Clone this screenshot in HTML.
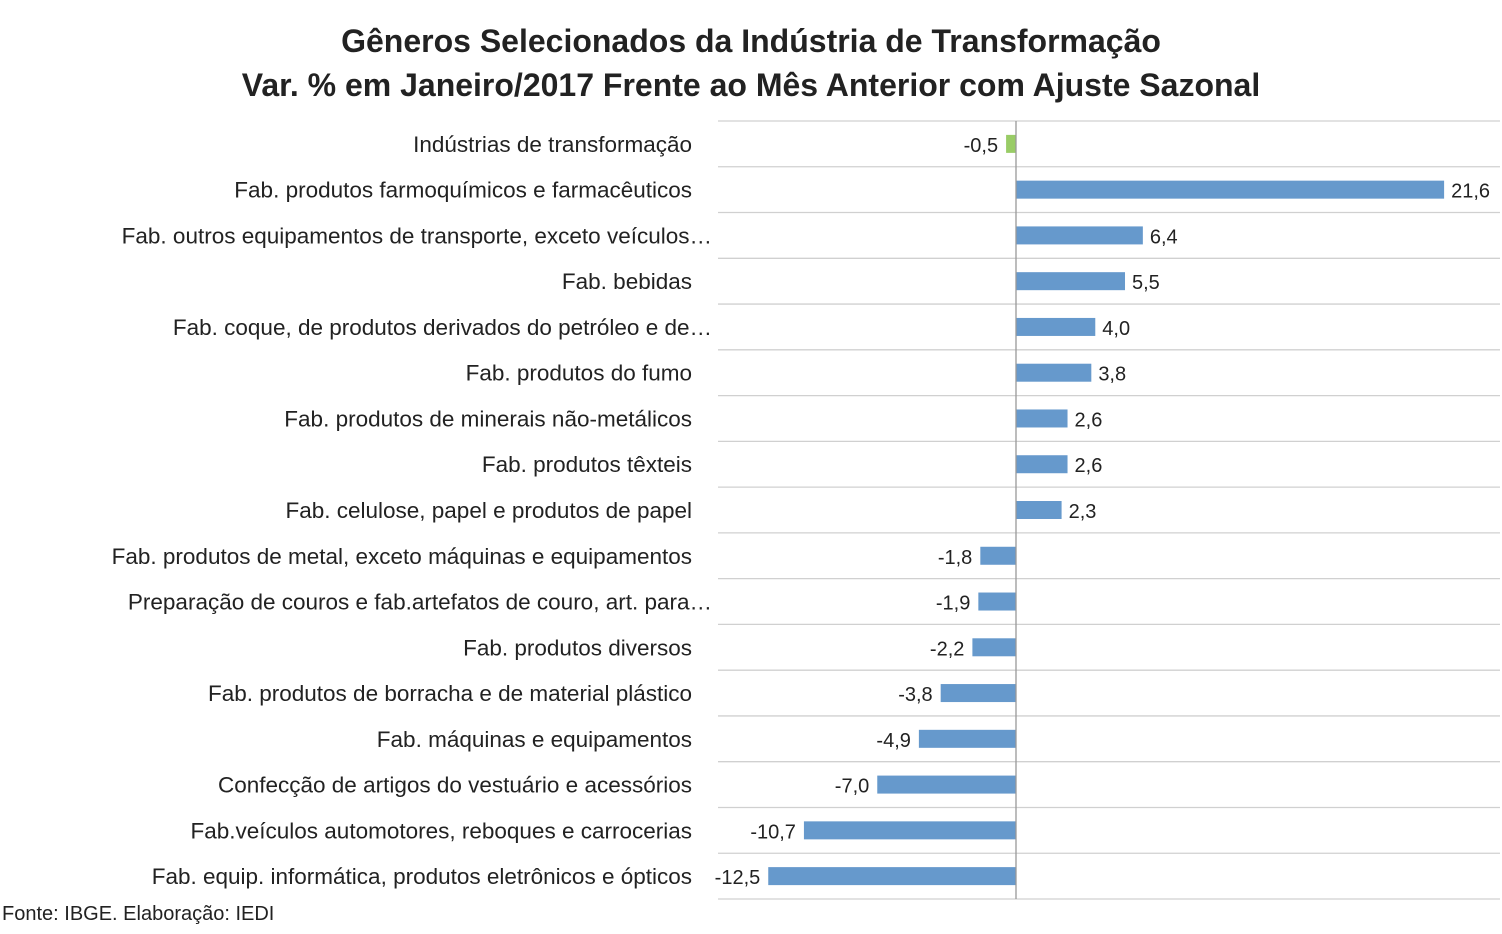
<!DOCTYPE html>
<html><head><meta charset="utf-8"><style>
body{margin:0;background:#fff}
svg text{font-family:"Liberation Sans","DejaVu Sans",sans-serif}
</style></head><body>
<svg width="1502" height="929" xmlns="http://www.w3.org/2000/svg">
<text x="751" y="52" text-anchor="middle" font-size="32" font-weight="bold" fill="#222">Gêneros Selecionados da Indústria de Transformação</text>
<text x="751" y="96" text-anchor="middle" font-size="32" font-weight="bold" fill="#222">Var. % em Janeiro/2017 Frente ao Mês Anterior com Ajuste Sazonal</text>
<g id="plot"></g>
<text x="2" y="920" font-size="20" fill="#222">Fonte: IBGE. Elaboração: IEDI</text>
</svg>
<script>
const categories=["Indústrias de transformação","Fab. produtos farmoquímicos e farmacêuticos","Fab. outros equipamentos de transporte, exceto veículos…","Fab. bebidas","Fab. coque, de produtos derivados do petróleo e de…","Fab. produtos do fumo","Fab. produtos de minerais não-metálicos","Fab. produtos têxteis","Fab. celulose, papel e produtos de papel","Fab. produtos de metal, exceto máquinas e equipamentos","Preparação de couros e fab.artefatos de couro, art. para…","Fab. produtos diversos","Fab. produtos de borracha e de material plástico","Fab. máquinas e equipamentos","Confecção de artigos do vestuário e acessórios","Fab.veículos automotores, reboques e carrocerias","Fab. equip. informática, produtos eletrônicos e ópticos"];
const values=[-0.5,21.6,6.4,5.5,4.0,3.8,2.6,2.6,2.3,-1.8,-1.9,-2.2,-3.8,-4.9,-7.0,-10.7,-12.5];
const valueLabels=["-0,5","21,6","6,4","5,5","4,0","3,8","2,6","2,6","2,3","-1,8","-1,9","-2,2","-3,8","-4,9","-7,0","-10,7","-12,5"];
const NS="http://www.w3.org/2000/svg";
const plotG=document.getElementById('plot');
const plotLeft=718,plotRight=1500,plotTop=121,plotBottom=899,x0=1016,pxPer=19.82;
const rowH=(plotBottom-plotTop)/categories.length;
const xs=v=>x0+v*pxPer;
function mk(t,a){const e=document.createElementNS(NS,t);for(const k in a)e.setAttribute(k,a[k]);plotG.appendChild(e);return e;}
for(let i=0;i<=categories.length;i++){
 const l=mk('line',{x1:plotLeft,x2:plotRight,y1:plotTop+i*rowH,y2:plotTop+i*rowH,stroke:'#d0d0d0','stroke-width':1.3});
 
 
}
categories.forEach((c,i)=>{
 const v=values[i],cy=plotTop+(i+0.5)*rowH;
 const trunc=c.endsWith('…');
 const t=mk('text',{x:trunc?712:692,y:cy+8,'text-anchor':'end','font-size':22.5,fill:'#222'});
 t.textContent=c;
 
 
 const xa=xs(Math.min(0,v)),xb=xs(Math.max(0,v));
 const r=mk('rect',{x:xa,y:cy-9,width:xb-xa,height:18,fill:i===0?'#99cc66':'#6699cc'});
 
 
 const lt=mk('text',{x:v>=0?xb+7:xa-8,y:cy+8,'text-anchor':v>=0?'start':'end','font-size':20,fill:'#222'});
 lt.textContent=valueLabels[i];
 
 
});
const ax=mk('line',{x1:x0,x2:x0,y1:plotTop,y2:plotBottom,stroke:'#999','stroke-width':1.3});


</script>
</body></html>
